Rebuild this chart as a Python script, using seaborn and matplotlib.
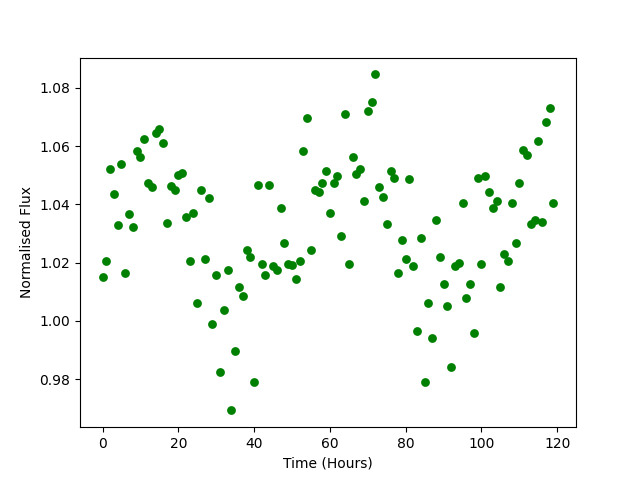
import numpy as np
import pandas as pd
import matplotlib
matplotlib.use("Agg")
import matplotlib.pyplot as plt
import seaborn as sns

hours = list(range(120))
flux = [
    1.0152, 1.0205, 1.0520, 1.0434, 1.0329, 1.0537, 1.0163, 1.0366, 1.0322, 1.0584,
    1.0561, 1.0626, 1.0472, 1.0460, 1.0645, 1.0657, 1.0609, 1.0335, 1.0462, 1.0451,
    1.0500, 1.0506, 1.0356, 1.0205, 1.0369, 1.0061, 1.0451, 1.0214, 1.0422, 0.9988,
    1.0156, 0.9826, 1.0039, 1.0176, 0.9693, 0.9898, 1.0118, 1.0087, 1.0243, 1.0221,
    0.9790, 1.0465, 1.0194, 1.0159, 1.0465, 1.0188, 1.0176, 1.0386, 1.0269, 1.0197,
    1.0192, 1.0143, 1.0207, 1.0582, 1.0695, 1.0242, 1.0451, 1.0441, 1.0472, 1.0513,
    1.0372, 1.0472, 1.0496, 1.0293, 1.0709, 1.0194, 1.0561, 1.0503, 1.0520, 1.0410,
    1.0719, 1.0753, 1.0846, 1.0461, 1.0427, 1.0334, 1.0516, 1.0489, 1.0163, 1.0279,
    1.0214, 1.0486, 1.0187, 0.9964, 1.0286, 0.9792, 1.0060, 0.9943, 1.0345, 1.0218,
    1.0128, 1.0052, 0.9843, 1.0189, 1.0200, 1.0406, 1.0077, 1.0128, 0.9957, 1.0492,
    1.0194, 1.0496, 1.0441, 1.0389, 1.0413, 1.0118, 1.0229, 1.0204, 1.0406, 1.0266,
    1.0475, 1.0588, 1.0571, 1.0331, 1.0345, 1.0619, 1.0341, 1.0681, 1.0729, 1.0403,
]

df = pd.DataFrame({"Time (Hours)": hours, "Normalised Flux": flux})

fig, ax = plt.subplots(figsize=(6.4, 4.8), dpi=100)
sns.scatterplot(data=df, x="Time (Hours)", y="Normalised Flux", color="green",
                s=40, linewidth=0, ax=ax)
ax.set_xlabel("Time (Hours)")
ax.set_ylabel("Normalised Flux")
fig.savefig("out.png", dpi=100)
